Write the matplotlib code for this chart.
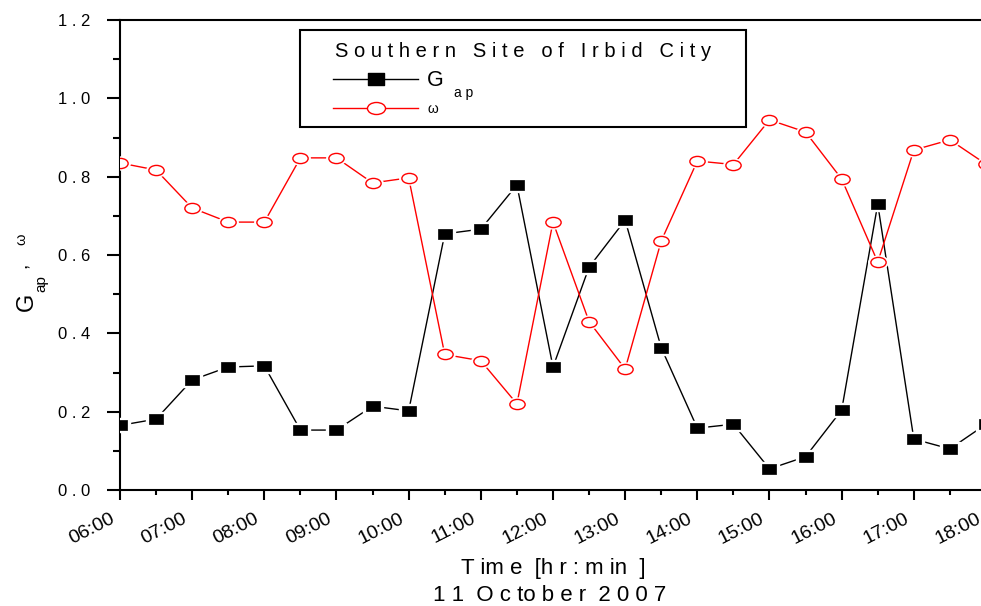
import matplotlib
matplotlib.use("Agg")
import matplotlib.pyplot as plt
import matplotlib.transforms as mtransforms
from matplotlib.path import Path
from matplotlib.lines import Line2D
from matplotlib.patches import Rectangle
from matplotlib.ticker import FixedLocator, MultipleLocator, NullFormatter

plt.rcParams['font.family'] = ['Liberation Sans', 'DejaVu Sans']
plt.rcParams['mathtext.fontset'] = 'custom'
plt.rcParams['mathtext.rm'] = 'Liberation Sans'
plt.rcParams['mathtext.it'] = 'Liberation Sans:italic'

# ---- data ----
times = ["06:00", "06:30", "07:00", "07:30", "08:00", "08:30", "09:00", "09:30",
         "10:00", "10:30", "11:00", "11:30", "12:00", "12:30", "13:00", "13:30",
         "14:00", "14:30", "15:00", "15:30", "16:00", "16:30", "17:00", "17:30",
         "18:00"]
g_ap = [0.165, 0.181, 0.281, 0.314, 0.317, 0.153, 0.153, 0.214,
        0.202, 0.654, 0.666, 0.779, 0.314, 0.569, 0.689, 0.363,
        0.158, 0.168, 0.054, 0.085, 0.204, 0.730, 0.130, 0.105,
        0.168]
omega = [0.835, 0.817, 0.720, 0.684, 0.684, 0.848, 0.848, 0.784,
         0.797, 0.346, 0.330, 0.220, 0.684, 0.430, 0.309, 0.636,
         0.840, 0.831, 0.945, 0.914, 0.794, 0.582, 0.868, 0.894,
         0.832]
hour_labels = ["06:00", "07:00", "08:00", "09:00", "10:00", "11:00", "12:00",
               "13:00", "14:00", "15:00", "16:00", "17:00", "18:00"]
y_ticks = [0.0, 0.2, 0.4, 0.6, 0.8, 1.0, 1.2]
y_tick_labels = ["0 . 0", "0 . 2", "0 . 4", "0 . 6", "0 . 8", "1 . 0", "1 . 2"]
legend_title = "S o u t h e r n   S i t e   o f   I r b i d   C i t y"
xlabel_line1 = "T im e  [h r : m in  ]"
xlabel_line2 = "1 1  O c to b e r  2 0 0 7"


def to_hours(t):
    h, m = t.split(":")
    return int(h) + int(m) / 60.0


x = [to_hours(t) for t in times]
hour_pos = [to_hours(t) for t in hour_labels]

W, H = 981, 606
fig = plt.figure(figsize=(W / 100, H / 100), dpi=100)
ax_l, ax_r, ax_t, ax_b = 120, 986, 20, 490
ax = fig.add_axes([ax_l / W, (H - ax_b) / H, (ax_r - ax_l) / W, (ax_b - ax_t) / H])

rect_marker = Path([(-1.45, -1), (1.45, -1), (1.45, 1), (-1.45, 1), (-1.45, -1)],
                   [Path.MOVETO, Path.LINETO, Path.LINETO, Path.LINETO, Path.CLOSEPOLY])
uc = Path.unit_circle()
ell_marker = Path(uc.vertices * [1.5, 1.0], uc.codes)

# black series
ax.plot(x, g_ap, color='black', lw=1.0, zorder=2)
ax.plot(x, g_ap, ls='none', marker=rect_marker, ms=15, mfc='white', mec='white', zorder=3)
ax.plot(x, g_ap, ls='none', marker=rect_marker, ms=10, mfc='black', mec='black',
        mew=0.5, zorder=4)
# red series
ax.plot(x, omega, color='red', lw=1.0, zorder=2)
ax.plot(x, omega, ls='none', marker=ell_marker, ms=14, mfc='white', mec='white', zorder=3)
ax.plot(x, omega, ls='none', marker=ell_marker, ms=11, mfc='white', mec='red',
        mew=1.0, zorder=4)

ax.set_xlim(6, 18)
ax.set_ylim(0, 1.2)
ax.xaxis.set_major_locator(FixedLocator(hour_pos))
ax.xaxis.set_minor_locator(MultipleLocator(0.5))
ax.xaxis.set_major_formatter(NullFormatter())
# rotated time labels, anchored just left of and below each major tick
lab_tr = ax.get_xaxis_transform() + mtransforms.ScaledTranslation(
    -10 / 100, -20 / 100, fig.dpi_scale_trans)
for pos, lab in zip(hour_pos, hour_labels):
    ax.text(pos, 0, lab, transform=lab_tr, rotation=27, rotation_mode='anchor',
            ha='right', va='top', fontsize=14, clip_on=False)

ax.yaxis.set_major_locator(FixedLocator(y_ticks))
ax.yaxis.set_minor_locator(MultipleLocator(0.1))
ax.set_yticklabels(y_tick_labels, fontsize=12)

ax.tick_params(axis='y', which='major', direction='out', length=9.5, width=1.5, pad=12)
ax.tick_params(axis='y', which='minor', direction='out', length=5, width=1.5)
ax.tick_params(axis='x', which='major', direction='out', length=7, width=1.5)
ax.tick_params(axis='x', which='minor', direction='out', length=3.6, width=1.5)
for s in ['left', 'bottom', 'top']:
    ax.spines[s].set_linewidth(1.5)
ax.spines['right'].set_visible(False)


def fx(px):
    return (px - ax_l) / (ax_r - ax_l)


def fy(py):
    return (ax_b - py) / (ax_b - ax_t)


# legend box (manual)
ax.add_patch(Rectangle((fx(300), fy(127)), fx(746) - fx(300), fy(30) - fy(127),
                       transform=ax.transAxes, facecolor='white', edgecolor='black',
                       lw=1.5, zorder=6))
ax.text(fx(523), fy(57), legend_title, transform=ax.transAxes, ha='center',
        va='baseline', fontsize=14.5, zorder=7)
ax.add_line(Line2D([fx(333), fx(418)], [fy(79), fy(79)], transform=ax.transAxes,
                   color='black', lw=1.0, zorder=7))
ax.add_line(Line2D([fx(375.5)], [fy(79)], transform=ax.transAxes, ls='none',
                   marker=rect_marker, ms=12, mfc='black', mec='black', zorder=8))
ax.add_line(Line2D([fx(333), fx(418)], [fy(108), fy(108)], transform=ax.transAxes,
                   color='red', lw=1.0, zorder=7))
ax.add_line(Line2D([fx(375.5)], [fy(108)], transform=ax.transAxes, ls='none',
                   marker=ell_marker, ms=13, mfc='white', mec='red', mew=1.0, zorder=8))
ax.text(fx(427), fy(86), "G", transform=ax.transAxes, ha='left', va='baseline',
        fontsize=15.5, zorder=8)
ax.text(fx(454), fy(97), "a p", transform=ax.transAxes, ha='left', va='baseline',
        fontsize=10, zorder=8)
ax.text(fx(427), fy(113), "ω", transform=ax.transAxes, ha='left', va='baseline',
        fontsize=10, zorder=8)

# axis labels
fig.text(553 / W, 1 - 574 / H, xlabel_line1, ha='center', va='baseline', fontsize=16)
fig.text(550 / W, 1 - 601 / H, xlabel_line2, ha='center', va='baseline', fontsize=16)

fig.text(33 / W, 1 - 311 / H, "G", rotation=90, rotation_mode='anchor',
         ha='left', va='baseline', fontsize=17)
fig.text(45 / W, 1 - 292 / H, "ap", rotation=90, rotation_mode='anchor',
         ha='left', va='baseline', fontsize=11)
fig.text(27 / W, 1 - 268 / H, ",", rotation=90, rotation_mode='anchor',
         ha='left', va='baseline', fontsize=14)
fig.text(25 / W, 1 - 245 / H, "ω", rotation=90, rotation_mode='anchor',
         ha='left', va='baseline', fontsize=10.5)

fig.savefig("out.png", dpi=100)
